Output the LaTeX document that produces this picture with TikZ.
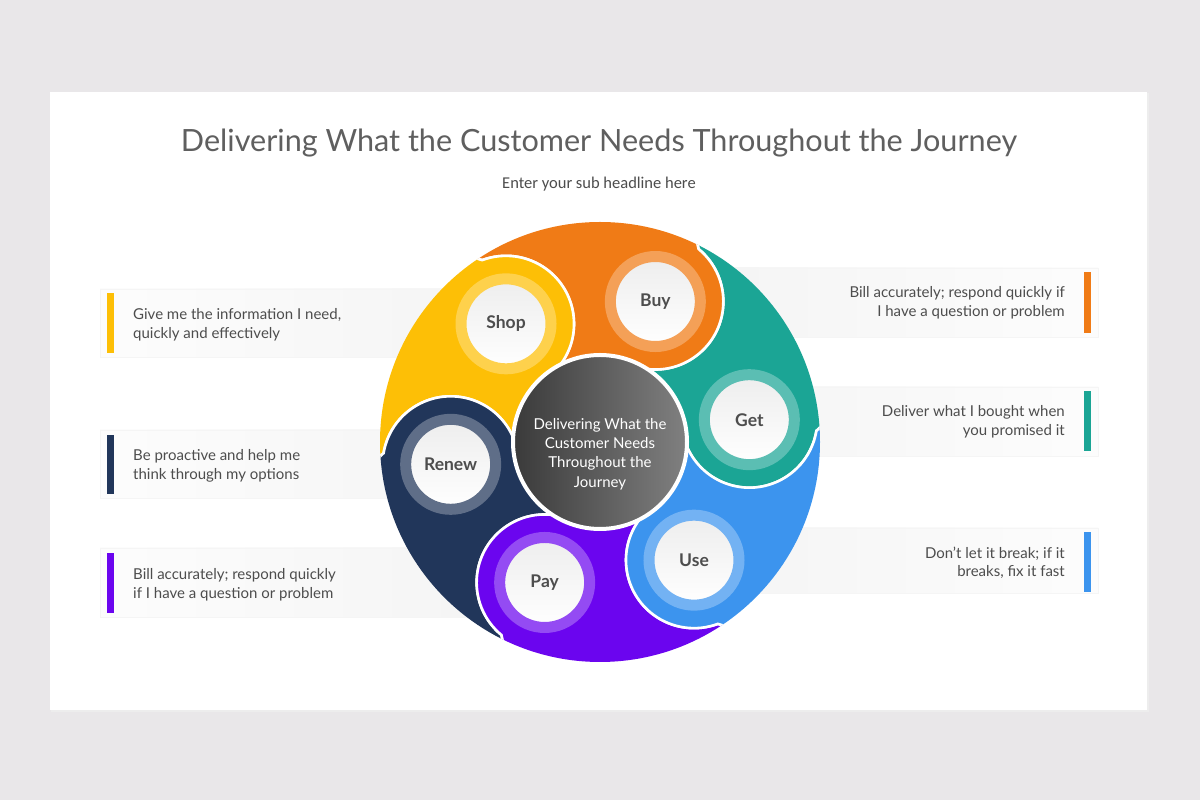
\documentclass[tikz,border=0pt]{standalone}
\usepackage{fontspec}
\setmainfont{Lato}
\newfontfamily\subfont{Carlito}
\usetikzlibrary{calc,positioning}
\definecolor{bgcol}{HTML}{E9E7E9}
\definecolor{cOrange}{HTML}{F07B16}
\definecolor{cTeal}{HTML}{1BA595}
\definecolor{cBlue}{HTML}{3C94EE}
\definecolor{cPurple}{HTML}{6B05EF}
\definecolor{cNavy}{HTML}{21365A}
\definecolor{cYellow}{HTML}{FDBF06}
\definecolor{txtcol}{HTML}{4D4D4D}
\definecolor{hubdark}{HTML}{3A3A3A}
\definecolor{hublight}{HTML}{808080}

\begin{document}
\begin{tikzpicture}[x=1pt,y=1pt,{seg/.style={draw=white,line width=2.6pt}},{lbl/.style={circle,minimum size=90pt,inner sep=0pt,line width=11pt,top color=black!7,bottom color=white,text=txtcol,font=\fontsize{17.5}{20}\selectfont\bfseries}},{desc/.style={text=txtcol,font=\fontsize{15}{18.5}\selectfont,inner sep=0pt}},{boxL/.style={left color=black!1,right color=black!5,draw=black!4,line width=0.4pt}},{boxR/.style={left color=black!5,right color=black!1,draw=black!4,line width=0.4pt}}]
	%%page and card
	\fill[bgcol] (0,0) rectangle (1200,800);
	\fill[black!7] (51,88) rectangle (1149,707);
	\fill[white] (50,90) rectangle (1147,708);
	%%headline
	\node[text=txtcol!90!white,font=\fontsize{30.6}{34}\selectfont] (title) at (599,657) {Delivering What the Customer Needs Throughout the Journey};
	\node[text=txtcol,font=\subfont\fontsize{16.5}{19}\selectfont] (subtitle) at (599,616) {Enter your sub headline here};
	%%text boxes behind the wheel
	\fill[boxL] (100,443) rectangle (600,511);
	\fill[boxL] (100,302) rectangle (600,370);
	\fill[boxL] (100,183) rectangle (600,252);
	\fill[boxR] (600,463) rectangle (1098,532);
	\fill[boxR] (600,344) rectangle (1098,413);
	\fill[boxR] (600,207) rectangle (1098,272);
	\fill[cYellow] (107,447) rectangle (114,507);
	\fill[cNavy] (107,306) rectangle (114,365);
	\fill[cPurple] (107,187) rectangle (114,247);
	\fill[cOrange] (1084,467) rectangle (1091,528);
	\fill[cTeal] (1084,349) rectangle (1091,409);
	\fill[cBlue] (1084,208) rectangle (1091,268);
	\node[desc,anchor=west,align=left] (shoptxt) at (133,475) {Give me the information I need,\\quickly and effectively};
	\node[desc,anchor=west,align=left] (renewtxt) at (133,334) {Be proactive and help me\\think through my options};
	\node[desc,anchor=west,align=left] (paytxt) at (133,215) {Bill accurately; respond quickly\\if I have a question or problem};
	\node[desc,anchor=east,align=right] (buytxt) at (1065,497) {Bill accurately; respond quickly if\\I have a question or problem};
	\node[desc,anchor=east,align=right] (gettxt) at (1065,378) {Deliver what I bought when\\you promised it};
	\node[desc,anchor=east,align=right] (usetxt) at (1065,237) {Don't let it break; if it\\breaks, fix it fast};
	%%wheel
	\coordinate (O) at (600,358);
	\begin{scope}
	\clip (O) circle (220);
	\foreach \a/\c in {8.5/cTeal,68.5/cOrange,128.5/cYellow,188.5/cNavy,248.5/cPurple,308.5/cBlue}{
		\filldraw[seg,fill=\c] (O) -- ($(O)+(\a:151)+(\a-165:68)$) arc[start angle=\a-165,end angle=\a-18,radius=68] -- ($(O)+(\a-4:224)$) arc[start angle=\a-4,end angle=\a+56,radius=224] -- ($(O)+(\a+60:151)+(\a+42:68)$) arc[start angle=\a+42,end angle=\a-105,radius=68] -- cycle;
	}
	\end{scope}
	%%steps
	\node[lbl,draw=cTeal!72!white] (get) at ($(O)+(8.5:151)$) {Get};
	\node[lbl,draw=cOrange!72!white] (buy) at ($(O)+(68.5:151)$) {Buy};
	\node[lbl,draw=cYellow!72!white] (shop) at ($(O)+(128.5:151)$) {Shop};
	\node[lbl,draw=cNavy!72!white] (renew) at ($(O)+(188.5:151)$) {Renew};
	\node[lbl,draw=cPurple!72!white] (pay) at ($(O)+(248.5:151)$) {Pay};
	\node[lbl,draw=cBlue!72!white] (use) at ($(O)+(308.5:151)$) {Use};
	%%hub
	\node[circle,minimum size=174pt,inner sep=0pt,left color=hubdark,right color=hublight,draw=white,line width=4pt] (hub) at (O) {};
	\node[text=white,align=center,font=\fontsize{15}{19.3}\selectfont] (hubtxt) at ($(hub.center)+(0,-12)$) {Delivering What the\\Customer Needs\\Throughout the\\Journey};
\end{tikzpicture}
\end{document}
